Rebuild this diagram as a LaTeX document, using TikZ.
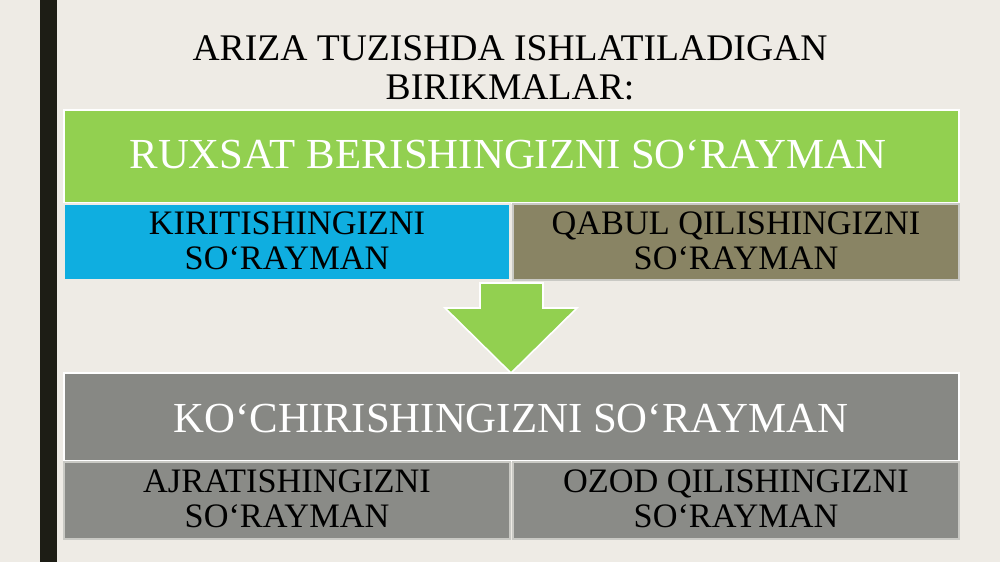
\documentclass[tikz,border=0pt]{standalone}
\usepackage{fontspec}
\setmainfont{Liberation Serif}
\definecolor{bgc}{HTML}{EEEBE5}
\definecolor{barc}{HTML}{1D1D15}
\definecolor{greenc}{HTML}{92D050}
\definecolor{bluec}{HTML}{0FAEE0}
\definecolor{olivec}{HTML}{898464}
\definecolor{grayc}{HTML}{878884}
\definecolor{graysub}{HTML}{8A8B87}
\definecolor{subedge}{HTML}{C9C9C4}
\tikzset{
  mainbox/.style={draw=white, line width=1.6pt},
  subbox/.style={draw=subedge, line width=1.2pt},
  bigtext/.style={text=white, font=\fontsize{42.8}{44}\selectfont, inner sep=0pt, anchor=base},
  subtext/.style={text=black, font=\fontsize{34.3}{35}\selectfont, align=center, inner sep=0pt},
  titletext/.style={text=black, font=\fontsize{37.6}{39}\selectfont, align=center, inner sep=0pt}
}
\begin{document}
\begin{tikzpicture}[x=1pt,y=-1pt]
\useasboundingbox (0,0) rectangle (1000,562);
\fill[bgc] (0,0) rectangle (1000,562);
\fill[barc] (40,0) rectangle (57,562);
% title
\node[titletext] (title) at (510,67.5) {ARIZA TUZISHDA ISHLATILADIGAN\\BIRIKMALAR:};
% top group
\path[fill=greenc, mainbox] (64,110) rectangle (959,203);
\node[bigtext] (ruxsat) at (508,168) {RUXSAT BERISHINGIZNI SO‘RAYMAN};
\path[fill=bluec, subbox, draw=bgc] (64,204) rectangle (510,280);
\node[subtext] (kiritish) at (287,241) {KIRITISHINGIZNI\\SO‘RAYMAN};
\path[fill=olivec, subbox] (513,204) rectangle (959,280);
\node[subtext] (qabul) at (736,241) {QABUL QILISHINGIZNI\\SO‘RAYMAN};
% arrow
\path[fill=greenc, draw=white, line width=1.6pt, line join=miter]
  (480,283) -- (543,283) -- (543,308) -- (577,308) -- (511,373) -- (445,308) -- (480,308) -- cycle;
% bottom group
\path[fill=grayc, mainbox] (64,373) rectangle (959,461);
\node[bigtext] (kochirish) at (511,432) {KO‘CHIRISHINGIZNI SO‘RAYMAN};
\path[fill=graysub, subbox] (64,462) rectangle (510,539);
\node[subtext] (ajratish) at (287,499) {AJRATISHINGIZNI\\SO‘RAYMAN};
\path[fill=graysub, subbox] (513,462) rectangle (959,539);
\node[subtext] (ozod) at (736,499) {OZOD QILISHINGIZNI\\SO‘RAYMAN};
\end{tikzpicture}
\end{document}
